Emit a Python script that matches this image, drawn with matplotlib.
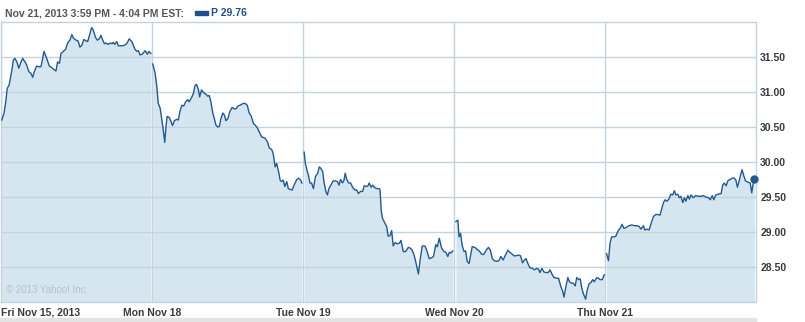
import numpy as np
import matplotlib
matplotlib.use("Agg")
from matplotlib import pyplot as plt

plt.rcParams['font.family'] = ['Liberation Sans', 'DejaVu Sans']

# minutes after the 9:30 open, and last price, one list pair per session
fri_min = [2, 8, 13, 16, 21, 28, 32, 36, 41, 46, 51, 56, 62, 66, 72, 77, 82, 86, 92, 99,
           103, 107, 111, 118, 125, 131, 137, 142, 146, 151, 155, 161, 167, 172, 178, 183, 187, 194, 199, 204,
           209, 214, 220, 224, 230, 234, 238, 244, 249, 254, 258, 263, 267, 271, 277, 282, 287, 290, 294, 299,
           303, 307, 314, 320, 326, 331, 338, 346, 351, 355, 359, 365, 372, 378, 382, 387]
fri_px = [30.60, 30.70, 30.89, 31.05, 31.10, 31.31, 31.46, 31.48, 31.43, 31.34,
          31.42, 31.48, 31.43, 31.39, 31.29, 31.27, 31.21, 31.29, 31.37, 31.36,
          31.36, 31.46, 31.58, 31.48, 31.37, 31.35, 31.32, 31.30, 31.43, 31.41,
          31.55, 31.58, 31.61, 31.70, 31.74, 31.82, 31.77, 31.74, 31.73, 31.64,
          31.67, 31.75, 31.73, 31.72, 31.84, 31.92, 31.89, 31.78, 31.74, 31.76,
          31.81, 31.74, 31.69, 31.70, 31.68, 31.70, 31.69, 31.71, 31.68, 31.72,
          31.66, 31.66, 31.66, 31.67, 31.70, 31.76, 31.72, 31.61, 31.58, 31.59,
          31.53, 31.54, 31.59, 31.54, 31.58, 31.55]

mon_min = [2, 8, 12, 16, 21, 25, 29, 33, 36, 39, 44, 49, 53, 58, 64, 68, 72, 77, 82, 87,
           92, 96, 103, 107, 111, 115, 120, 123, 128, 133, 139, 144, 148, 152, 157, 161, 165, 170, 174, 178,
           183, 187, 191, 196, 201, 207, 212, 217, 222, 227, 233, 240, 246, 251, 256, 262, 266, 272, 277, 283,
           292, 298, 303, 309, 313, 318, 322, 327, 331, 335, 339, 343, 348, 352, 356, 362, 367, 374, 379, 384, 387]
mon_px = [31.40, 31.27, 31.10, 30.84, 30.77, 30.62, 30.46, 30.28, 30.50, 30.65,
          30.64, 30.58, 30.52, 30.59, 30.61, 30.60, 30.72, 30.81, 30.80, 30.86,
          30.89, 30.86, 30.93, 30.98, 31.09, 31.11, 31.03, 30.93, 31.03, 30.99,
          30.97, 30.94, 30.95, 30.86, 30.70, 30.62, 30.53, 30.50, 30.51, 30.62,
          30.70, 30.67, 30.59, 30.62, 30.72, 30.78, 30.76, 30.76, 30.80, 30.81,
          30.83, 30.84, 30.81, 30.70, 30.66, 30.55, 30.53, 30.49, 30.43, 30.36,
          30.34, 30.29, 30.20, 30.18, 30.12, 29.93, 29.98, 29.86, 29.74, 29.72,
          29.74, 29.65, 29.72, 29.62, 29.61, 29.60, 29.67, 29.75, 29.77, 29.74, 29.70]

tue_min = [3, 6, 10, 14, 18, 22, 27, 32, 38, 42, 46, 51, 54, 59, 63, 67, 72, 78, 84, 89,
           93, 97, 102, 106, 109, 113, 118, 123, 128, 134, 139, 143, 149, 154, 158, 163, 168, 171, 176, 180,
           184, 190, 197, 199, 202, 205, 212, 216, 220, 225, 229, 233, 238, 244, 249, 253, 259, 265, 272, 277,
           282, 287, 293, 298, 303, 308, 315, 320, 326, 332, 337, 343, 347, 352, 358, 364, 369, 374, 378, 382, 387]
tue_px = [30.14, 29.98, 29.89, 29.81, 29.70, 29.70, 29.62, 29.79, 29.84, 29.93,
          29.91, 29.86, 29.72, 29.58, 29.53, 29.62, 29.67, 29.73, 29.73, 29.72,
          29.67, 29.75, 29.70, 29.74, 29.84, 29.75, 29.70, 29.70, 29.64, 29.60,
          29.60, 29.55, 29.58, 29.58, 29.66, 29.65, 29.66, 29.70, 29.64, 29.67,
          29.64, 29.62, 29.62, 29.60, 29.31, 29.20, 29.12, 29.08, 28.94, 28.95,
          29.02, 28.80, 28.85, 28.83, 28.84, 28.88, 28.72, 28.72, 28.78, 28.77,
          28.74, 28.67, 28.53, 28.40, 28.62, 28.80, 28.80, 28.73, 28.62, 28.63,
          28.65, 28.82, 28.79, 28.91, 28.77, 28.72, 28.71, 28.65, 28.71, 28.70, 28.73]

wed_min = [5, 10, 13, 17, 21, 26, 30, 34, 39, 43, 47, 54, 60, 65, 72, 77, 83, 89, 94, 99,
           104, 110, 116, 121, 127, 132, 139, 144, 149, 155, 160, 166, 172, 177, 182, 186, 190, 196, 202, 208,
           214, 218, 222, 227, 232, 238, 243, 248, 252, 258, 265, 270, 276, 281, 284, 289, 294, 298, 303, 308,
           313, 317, 322, 326, 330, 334, 340, 344, 349, 354, 358, 362, 369, 373, 377, 383, 388]
wed_px = [29.15, 29.17, 28.93, 28.98, 28.81, 28.72, 28.73, 28.58, 28.55, 28.67,
          28.79, 28.78, 28.75, 28.73, 28.68, 28.68, 28.74, 28.78, 28.74, 28.62,
          28.59, 28.58, 28.59, 28.65, 28.60, 28.66, 28.74, 28.71, 28.69, 28.66,
          28.66, 28.67, 28.66, 28.56, 28.60, 28.62, 28.56, 28.49, 28.48, 28.46,
          28.48, 28.47, 28.42, 28.48, 28.43, 28.42, 28.42, 28.46, 28.41, 28.35,
          28.34, 28.34, 28.22, 28.15, 28.07, 28.22, 28.35, 28.29, 28.27, 28.27,
          28.23, 28.35, 28.32, 28.33, 28.20, 28.12, 28.04, 28.17, 28.26, 28.28,
          28.32, 28.29, 28.35, 28.34, 28.32, 28.32, 28.39]

thu_min = [4, 9, 13, 17, 23, 28, 34, 39, 44, 49, 56, 62, 69, 76, 82, 88, 93, 99, 103, 109,
           114, 119, 125, 131, 136, 142, 146, 151, 155, 160, 165, 170, 175, 179, 183, 188, 192, 196, 201, 205,
           209, 214, 218, 222, 228, 234, 241, 248, 254, 260, 267, 272, 277, 281, 286, 293, 300, 304, 308, 313,
           317, 323, 329, 334, 338, 342, 346, 350, 354, 358, 363, 370, 375, 379, 382, 386]
thu_px = [28.69, 28.59, 28.84, 28.93, 28.93, 28.94, 29.02, 29.05, 29.11, 29.05,
          29.07, 29.09, 29.10, 29.09, 29.09, 29.08, 29.04, 29.09, 29.03, 29.04,
          29.03, 29.12, 29.22, 29.25, 29.25, 29.24, 29.32, 29.42, 29.46, 29.44,
          29.47, 29.54, 29.53, 29.59, 29.53, 29.54, 29.49, 29.51, 29.42, 29.49,
          29.44, 29.52, 29.47, 29.53, 29.49, 29.52, 29.51, 29.51, 29.52, 29.50,
          29.49, 29.46, 29.52, 29.46, 29.53, 29.54, 29.55, 29.67, 29.70, 29.66,
          29.73, 29.75, 29.77, 29.77, 29.74, 29.64, 29.72, 29.81, 29.89, 29.81,
          29.73, 29.71, 29.70, 29.56, 29.67, 29.76]

day_labels = ["Fri Nov 15, 2013", "Mon Nov 18", "Tue Nov 19", "Wed Nov 20", "Thu Nov 21"]
y_ticks = [28.50, 29.00, 29.50, 30.00, 30.50, 31.00, 31.50]
header = "Nov 21, 2013 3:59 PM - 4:04 PM EST:"
last_label = "P 29.76"
session_len = 390

days = [(fri_min, fri_px), (mon_min, mon_px), (tue_min, tue_px),
        (wed_min, wed_px), (thu_min, thu_px)]

line_col = "#23598f"
fill_col = "#d6e6f1"
grid_col = "#c5d3de"
txt_col = "#3a3a3a"

fig = plt.figure(figsize=(8.05, 3.22), dpi=100)
ax = fig.add_axes([1/805, 20/322, 755/805, 280/322])

ax.set_xlim(0, session_len*len(days))
ax.set_ylim(28.0, 32.0)

for i, (mins, px) in enumerate(days):
    t = i*session_len + np.array(mins)
    ax.fill_between(t, px, 28.0, color=fill_col, lw=0, zorder=1)
    ax.plot(t, px, color=line_col, lw=1.0, zorder=3)

last_t = (len(days)-1)*session_len + thu_min[-1]
ax.plot([last_t], [thu_px[-1]], 'o', color=line_col, ms=5, zorder=4, clip_on=False)

ax.set_yticks(y_ticks)
ax.set_yticklabels(["%.2f" % v for v in y_ticks])
ax.yaxis.tick_right()
ax.set_xticks([i*session_len for i in range(len(days))])
ax.set_xticklabels(day_labels)
ax.get_xticklabels()[0].set_ha("left")
ax.tick_params(length=0, labelsize=7.5, colors=txt_col, pad=4)
ax.tick_params(axis='y', pad=3)
for lab in ax.get_xticklabels() + ax.get_yticklabels():
    lab.set_fontweight("bold")

ax.grid(True, color=grid_col, lw=1.0, zorder=2)
ax.set_axisbelow(False)
for s in ax.spines.values():
    s.set_color(grid_col)
    s.set_linewidth(1.0)

ax.text(0.006, 0.025, "\u00a9 2013 Yahoo! Inc.", transform=ax.transAxes,
        fontsize=7, color="#b3c2ce", ha="left", va="bottom", zorder=5)

fig.text(5/805, 1-13/322, header, fontsize=7.45, fontweight="bold",
         color="#555555", ha="left", va="center")
fig.patches.append(plt.Rectangle((195/805, 1-15/322), 13/805, 4/322,
                                 transform=fig.transFigure, color="#1f4f8a"))
fig.text(211/805, 1-13/322, last_label, fontsize=7.45, fontweight="bold",
         color="#1f4f8a", ha="left", va="center")

# grey strip under the date labels
fig.patches.append(plt.Rectangle((0, 0), 756/805, 4/322,
                                 transform=fig.transFigure, color="#e3e3e3"))

fig.savefig("out.png", dpi=100)
